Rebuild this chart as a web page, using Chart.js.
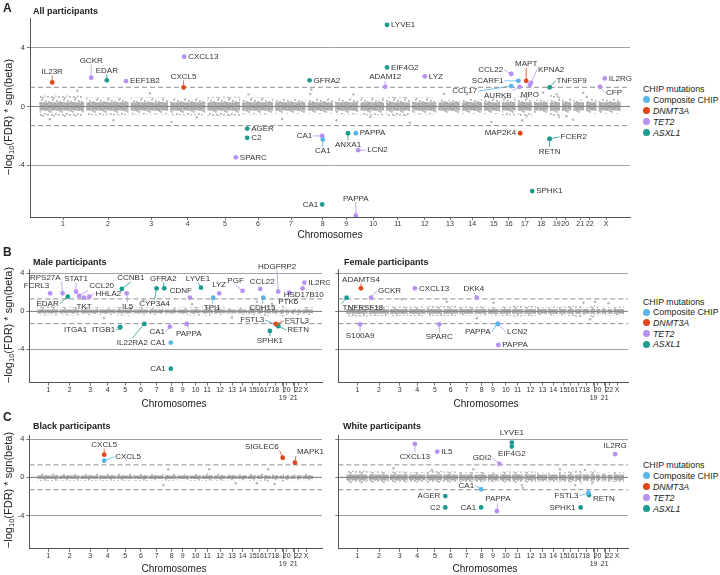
<!DOCTYPE html>
<html>
<head>
<meta charset="utf-8">
<style>
  body { margin: 0; background: #fff; font-family: 'Liberation Sans', Arial, Helvetica, sans-serif; color: #222; }
  #page { position: relative; width: 720px; height: 575px; overflow: hidden; }
  #page canvas { position: absolute; }
  .tag { position: absolute; font-weight: bold; font-size: 12px; line-height: 12px; }
  .ptitle { position: absolute; font-weight: bold; font-size: 9px; line-height: 10px; transform: translateY(-50%); }
  .ytitle { position: absolute; font-size: 11px; white-space: nowrap; transform: translate(-50%, -50%) rotate(-90deg); }
  .ytitle sub { font-size: 7.5px; vertical-align: -2px; }
  .xtitle { position: absolute; font-size: 10px; white-space: nowrap; transform: translate(-50%, -50%); }
  .legend { position: absolute; left: 643px; font-size: 8.8px; color: #222; }
  .legend div { white-space: nowrap; }
  .legend i { font-style: italic; }
  .legend .dot { display: inline-block; width: 7px; height: 7px; border-radius: 50%; margin-right: 3px; vertical-align: -0.5px; }
</style>
</head>
<body>
<div id="page">
  <canvas id="chartA" width="640" height="240" style="left:0;top:0"></canvas>
  <canvas id="chartBM" width="330" height="150" style="left:0;top:255px"></canvas>
  <canvas id="chartBF" width="310" height="150" style="left:330px;top:255px"></canvas>
  <canvas id="chartCB" width="330" height="150" style="left:0;top:420px"></canvas>
  <canvas id="chartCW" width="310" height="150" style="left:330px;top:420px"></canvas>

  <div class="tag" style="left:3px;top:2px">A</div>
  <div class="ptitle" style="left:33px;top:10.7px">All participants</div>
  <div class="tag" style="left:3px;top:246px">B</div>
  <div class="ptitle" style="left:33px;top:261.5px">Male participants</div>
  <div class="ptitle" style="left:344px;top:261.5px">Female participants</div>
  <div class="tag" style="left:3px;top:411px">C</div>
  <div class="ptitle" style="left:33px;top:426px">Black participants</div>
  <div class="ptitle" style="left:343px;top:426px">White participants</div>

  <div class="ytitle" style="left:9px;top:117px">−log<sub>10</sub>(FDR) * sgn(beta)</div>
  <div class="ytitle" style="left:9px;top:325px">−log<sub>10</sub>(FDR) * sgn(beta)</div>
  <div class="ytitle" style="left:9px;top:490px">−log<sub>10</sub>(FDR) * sgn(beta)</div>

  <div class="xtitle" style="left:330px;top:234px">Chromosomes</div>
  <div class="xtitle" style="left:174px;top:403px">Chromosomes</div>
  <div class="xtitle" style="left:486px;top:403px">Chromosomes</div>
  <div class="xtitle" style="left:174px;top:568px">Chromosomes</div>
  <div class="xtitle" style="left:485px;top:568px">Chromosomes</div>

  <div class="legend" id="legA" style="top:83.5px;line-height:11px"></div>
  <div class="legend" id="legB" style="top:296.5px;line-height:10.7px"></div>
  <div class="legend" id="legC" style="top:459.5px;line-height:11px"></div>
</div>

<script src="https://cdn.jsdelivr.net/npm/chart.js"></script>
<script>
// chromosome ticks (genome units along the x axis) and segment edges
const chrLabels = ['1','2','3','4','5','6','7','8','9','10','11','12','13','14','15','16','17','18','19','20','21','22','X'];
const chrPos = [55, 130, 202, 263, 325, 380, 435, 488, 527, 572, 613, 658, 700, 737, 773, 798, 825, 852, 878, 892, 917, 933, 960];
const chrEdges = [14, 92, 166, 232, 294, 352, 407, 461, 507, 549, 592, 635, 679, 718, 755, 785, 811, 838, 865, 885, 904, 925, 946, 986];
const fdrLine = 1.3;  // -log10(0.05)

const groupNames = ['Composite CHIP', 'DNMT3A', 'TET2', 'ASXL1'];
const groupCodes = ['C', 'D', 'T', 'A'];

// ---- A: all participants
const aGenes = ['IL23R','GCKR','EDAR','EEF1B2','CXCL13','CXCL5','GFRA2','AGER','C2','SPARC','CA1','CA1','CA1','ANXA1','PAPPA','LCN2','PAPPA','LYVE1','EIF4G2','ADAM12','LYZ','CCL22','SCARF1','MAPT','KPNA2','CCL17','AURKB','MPO','TNFSF9','IL2RG','CFP','MAP2K4','FCER2','RETN','SPHK1'];
const aPos = [37, 102, 128, 160, 257, 256, 466, 362, 362, 343, 487, 488, 487, 530, 543, 547, 543, 595, 595, 592, 658, 802, 814, 827, 835, 802, 816, 833, 866, 958, 950, 817, 866, 866, 837];
const aVal = [1.63, 1.95, 1.77, 1.72, 3.37, 1.29, 1.77, -1.5, -2.13, -3.45, -2.0, -2.25, -6.65, -1.82, -1.82, -2.97, -7.4, 5.53, 2.65, 1.33, 2.04, 2.2, 1.74, 1.74, 1.6, 1.38, 1.33, 1.45, 1.29, 1.9, 1.33, -1.82, -2.2, -2.2, -5.74];
const aMut = ['D','T','A','T','T','D','A','A','A','T','T','C','A','A','C','T','T','A','A','T','T','T','C','D','T','C','T','T','A','T','T','D','A','A','A'];
const aHi = [0.75, 0.6, 0.6, 0.55, 0.65, 0.6, 0.5, 0.55, 0.55, 0.6, 0.65, 0.6, 0.45, 0.5, 0.55, 0.6, 0.75, 0.45, 0.8, 0.55, 0.45, 0.5, 0.5];
const aLo = [-0.7, -0.6, -0.55, -0.6, -0.65, -0.55, -0.5, -0.5, -0.55, -0.6, -0.65, -0.55, -0.45, -0.5, -0.5, -0.6, -0.75, -0.45, -0.8, -0.5, -0.45, -0.5, -0.5];
const aCore = 0.28;
const aOutPos = [79, 33, 139, 200, 236, 278, 364, 420, 467, 469, 511, 539, 567, 633, 690, 728, 769, 820, 855, 878, 894, 905, 922, 928];
const aOutVal = [1.06, -0.87, -0.93, 0.9, -1.05, -0.75, 0.82, -0.85, 0.84, 1.15, -0.93, 0.82, -0.7, -1.1, 0.85, 0.82, -1.05, -0.95, 0.95, 0.82, -0.66, -0.9, 0.93, 0.66];

// ---- B: male participants
const bmGenes = ['RPS27A','FCRL3','EDAR','STAT1','CCL20','TKT','HHLA2','CCNB1','IL5','CYP3A4','GFRA2','LYVE1','CDNF','LYZ','TPI1','PGF','CCL22','CDH15','HDGFRP2','PTK6','IL2RG','HSD17B10','ITGA1','ITGB1','IL22RA2','CA1','CA1','CA1','PAPPA','FSTL3','FSTL3','RETN','SPHK1'];
const bmPos = [105, 61, 123, 152, 163, 180, 199, 313, 330, 435, 462, 591, 552, 655, 634, 737, 799, 810, 862, 901, 954, 948, 307, 307, 392, 482, 485, 485, 541, 862, 854, 862, 833];
const bmVal = [1.89, 1.89, 1.54, 2.07, 1.61, 1.43, 1.54, 2.35, 1.89, 2.42, 2.42, 2.49, 1.43, 1.89, 1.43, 2.14, 2.35, 1.43, 2.07, 1.96, 3.01, 2.42, -1.68, -1.68, -1.33, -1.62, -3.3, -6.04, -1.33, -1.55, -1.34, -1.55, -2.07];
const bmMut = ['T','T','A','T','T','T','T','A','T','A','A','A','T','T','C','T','T','C','T','T','T','T','A','A','A','T','C','A','T','A','D','A','A'];
const bmHi = [0.5, 0.45, 0.45, 0.4, 0.45, 0.45, 0.4, 0.4, 0.4, 0.45, 0.5, 0.45, 0.35, 0.4, 0.4, 0.45, 0.55, 0.4, 0.6, 0.45, 0.35, 0.4, 0.45];
const bmLo = [-0.45, -0.45, -0.4, -0.4, -0.45, -0.4, -0.4, -0.35, -0.4, -0.45, -0.45, -0.4, -0.35, -0.4, -0.4, -0.45, -0.5, -0.35, -0.55, -0.4, -0.35, -0.4, -0.4];
const bmCore = 0.2;
const bmOutPos = [250, 389, 560, 700, 787, 840, 921];
const bmOutVal = [-0.7, 1.19, 0.75, -0.65, 1.0, 0.8, 1.26];

// ---- B: female participants
const bfGenes = ['ADAMTS4','TNFRSF18','GCKR','CXCL13','DKK4','S100A9','SPARC','LCN2','PAPPA','PAPPA'];
const bfPos = [67, 17, 102, 255, 471, 64, 340, 545, 543, 546];
const bfVal = [2.42, 1.43, 1.43, 2.42, 1.43, -1.37, -1.37, -1.33, -1.33, -3.55];
const bfMut = ['D','A','T','T','T','T','T','T','C','T'];
const bfHi = [0.6, 0.55, 0.5, 0.5, 0.55, 0.55, 0.5, 0.5, 0.45, 0.5, 0.55, 0.55, 0.45, 0.5, 0.5, 0.55, 0.65, 0.45, 0.7, 0.5, 0.4, 0.45, 0.5];
const bfLo = [-0.55, -0.5, -0.5, -0.5, -0.5, -0.5, -0.45, -0.45, -0.45, -0.5, -0.55, -0.5, -0.4, -0.45, -0.45, -0.5, -0.6, -0.4, -0.65, -0.45, -0.4, -0.45, -0.45];
const bfCore = 0.25;
const bfOutPos = [209, 366, 471, 529, 843, 866, 883, 930];
const bfOutVal = [1.26, 1.0, -0.74, 0.9, 0.9, -0.84, 1.0, 0.84];

// ---- C: black participants
const cbGenes = ['CXCL5','CXCL5','SIGLEC6','MAPK1'];
const cbPos = [251, 251, 878, 921];
const cbVal = [2.37, 1.74, 2.05, 1.53];
const cbMut = ['D','C','D','D'];
const cbHi = [0.4, 0.35, 0.35, 0.35, 0.4, 0.35, 0.35, 0.35, 0.3, 0.35, 0.4, 0.35, 0.3, 0.3, 0.35, 0.4, 0.45, 0.3, 0.45, 0.35, 0.3, 0.3, 0.35];
const cbLo = [-0.4, -0.35, -0.35, -0.35, -0.35, -0.35, -0.3, -0.35, -0.3, -0.35, -0.35, -0.35, -0.3, -0.3, -0.35, -0.35, -0.45, -0.3, -0.45, -0.3, -0.3, -0.3, -0.3];
const cbCore = 0.18;
const cbOutPos = [459, 476, 620, 713, 787, 827, 850];
const cbOutVal = [-0.81, 0.84, 0.84, -0.63, -0.63, 0.84, -0.7];

// ---- C: white participants
const cwGenes = ['LYVE1','EIF4G2','CXCL13','IL5','IL2RG','GDI2','CA1','AGER','C2','CA1','PAPPA','FSTL3','RETN','SPHK1'];
const cwPos = [593, 593, 255, 333, 953, 550, 486, 361, 361, 486, 541, 860, 862, 833];
const cwVal = [3.64, 3.22, 3.5, 2.69, 2.42, 1.4, -1.26, -1.97, -3.16, -3.16, -3.55, -1.62, -1.86, -3.16];
const cwMut = ['A','A','T','T','T','T','C','A','A','A','T','C','A','A'];
const cwHi = [0.7, 0.6, 0.6, 0.55, 0.65, 0.6, 0.55, 0.55, 0.5, 0.6, 0.6, 0.6, 0.5, 0.5, 0.55, 0.6, 0.75, 0.5, 0.8, 0.55, 0.45, 0.5, 0.55];
const cwLo = [-0.65, -0.6, -0.55, -0.55, -0.6, -0.55, -0.5, -0.5, -0.5, -0.55, -0.6, -0.55, -0.45, -0.5, -0.5, -0.55, -0.7, -0.45, -0.75, -0.5, -0.45, -0.5, -0.5];
const cwCore = 0.3;
const cwOutPos = [180, 314, 459, 628, 631, 761, 814, 848];
const cwOutVal = [0.95, 0.77, 0.84, -0.81, -1.09, 0.84, -0.81, 0.77];

// label placement: [dx, dy, side, leader]  (pixels from the dot)
const aLab = [[0,-7,'t',1],[0,-13,'t',1],[0,-6,'t',1],[3,0,'r',0],[3,0,'r',0],[0,-7,'t',1],[3,0,'r',0],[3,0,'r',0],[3,0,'r',0],[3,0,'r',0],
  [-9,0,'l',1],[0,7,'b',1],[-3,0,'l',0],[0,7,'b',1],[3,0,'r',0],[8,0,'r',1],[0,-13,'t',1],[3,0,'r',0],[3,0,'r',0],[0,-6,'t',1],
  [3,0,'r',0],[-7,-4,'l',1],[-14,0,'l',1],[0,-13,'t',1],[6,-13,'r',1],[-33,5,'l',1],[-7,4,'bl',1],[0,5,'b',0],[6,-7,'r',1],[3,0,'r',0],
  [5,6,'r',1],[-3,0,'l',0],[10,-2,'r',1],[0,8,'b',1],[3,0,'r',0]];
const bmLab = [[-1,-12,'tl',1],[0,-4,'tl',0],[-8,7,'l',1],[0,-9,'t',1],[9,-6,'tr',1],[0,5,'b',0],[5,-3,'r',1],[9,-7,'t',1],[1,9,'b',1],[-2,11,'b',1],
  [-1,-6,'t',1],[-3,-5,'t',1],[3,-3,'tl',0],[0,-5,'t',0],[-1,6,'b',1],[-7,-6,'t',1],[2,-3,'t',0],[-1,6,'b',1],[-1,-21,'t',1],[-1,5,'b',0],
  [3,0,'r',0],[1,2,'b',0],[-32,3,'l',0],[-4,3,'l',1],[-12,14,'b',1],[-4,5,'l',1],[-4,0,'l',0],[-4,0,'l',0],[2,5,'b',1],[-13,-6,'l',1],
  [8,-3,'r',1],[8,4,'r',1],[0,5,'b',1]];
const bfLab = [[0,-5,'t',1],[-5,6,'br',1],[6,-7,'r',1],[3,0,'r',0],[-3,-5,'t',1],[0,7,'b',1],[0,8,'b',1],[8,8,'r',1],[-6,8,'l',1],[3,0,'r',0]];
const cbLab = [[0,-6,'t',1],[10,-4,'r',1],[-3,-7,'tl',1],[1,-7,'tr',1]];
const cwLab = [[0,-6,'t',0],[0,3,'b',0],[0,8,'b',1],[3,0,'r',0],[0,-4,'t',0],[-7,-6,'l',1],[-6,-4,'l',1],[-4,0,'l',0],[-4,0,'l',0],[-4,0,'l',0],
  [1,-8,'t',1],[-9,3,'l',1],[3,4,'r',0],[-4,0,'l',0]];

const COLORS = { C: '#5ab4ea', D: '#e2461c', T: '#b792f2', A: '#1c9b90' };
const FONT = "'Liberation Sans', Arial, Helvetica, sans-serif";
Chart.defaults.font.family = FONT;
Chart.defaults.color = '#333';

// dotted textures for the grey cloud of non-significant proteins
function tilePattern(w, h, base, color, dots, size) {
  const c = document.createElement('canvas');
  c.width = w; c.height = h;
  const g = c.getContext('2d');
  if (base) { g.fillStyle = base; g.fillRect(0, 0, w, h); }
  g.fillStyle = color;
  dots.forEach(d => g.fillRect(d[0], d[1], size, size));
  return g.createPattern(c, 'repeat');
}
const outerFill = tilePattern(11, 9, null, '#b3b3b3', [[1,1],[6,3],[3,6],[9,7],[8,0],[4,2],[0,5],[7,6]], 1.8);
const coreFill = tilePattern(7, 5, 'rgba(178,178,178,0.8)', '#a4a4a4', [[0,0],[3,1],[5,0],[1,2],[4,3],[6,2],[2,4]], 1.8);

function band(vals) {
  const pts = [];
  vals.forEach((v, i) => {
    pts.push({ x: chrEdges[i] + 1.5, y: v }, { x: chrEdges[i + 1] - 1.5, y: v }, { x: chrEdges[i + 1], y: null });
  });
  return pts;
}

const SIDE = { t: ['center','bottom'], b: ['center','top'], l: ['right','middle'], r: ['left','middle'],
  tl: ['right','bottom'], tr: ['left','bottom'], bl: ['right','top'], br: ['left','top'] };

function labelPlugin(d) {
  const at = (chart, i) => [chart.scales.x.getPixelForValue(d.pos[i]), chart.scales.y.getPixelForValue(d.val[i])];
  return {
    id: 'geneLabels',
    beforeDatasetsDraw(chart) {
      const ctx = chart.ctx;
      ctx.save();
      ctx.lineWidth = 0.8;
      d.lab.forEach((s, i) => {
        if (!s[3]) return;
        const [px, py] = at(chart, i);
        ctx.strokeStyle = COLORS[d.mut[i]];
        ctx.beginPath(); ctx.moveTo(px, py); ctx.lineTo(px + s[0], py + s[1]); ctx.stroke();
      });
      ctx.restore();
    },
    afterDatasetsDraw(chart) {
      const ctx = chart.ctx;
      ctx.save();
      ctx.font = '8px ' + FONT;
      ctx.fillStyle = '#333';
      d.lab.forEach((s, i) => {
        const [px, py] = at(chart, i);
        const [al, bl] = SIDE[s[2]];
        let tx = px + s[0], ty = py + s[1];
        if (al === 'left') tx += 1;
        if (al === 'right') tx -= 1;
        if (bl === 'top') ty += 0.5;
        ctx.textAlign = al; ctx.textBaseline = bl;
        ctx.fillText(d.genes[i], tx, ty);
      });
      ctx.restore();
    }
  };
}

// long ticks under the labels that sit on the second row (19 and 21)
const lowRow = [18, 20];
function longTicks(on) {
  return {
    id: 'longTicks',
    afterDraw(chart) {
      if (!on) return;
      const ctx = chart.ctx, x = chart.scales.x, b = chart.chartArea.bottom;
      ctx.save();
      ctx.strokeStyle = '#555'; ctx.lineWidth = 0.8;
      lowRow.forEach(i => {
        const px = Math.round(x.getPixelForValue(chrPos[i])) + 0.5;
        ctx.beginPath(); ctx.moveTo(px, b); ctx.lineTo(px, b + 10); ctx.stroke();
      });
      ctx.restore();
    }
  };
}

function makeChart(id, d, L) {
  const datasets = [];
  groupCodes.forEach(g => {
    const pts = [];
    d.mut.forEach((m, i) => { if (m === g) pts.push({ x: d.pos[i], y: d.val[i] }); });
    datasets.push({ type: 'scatter', data: pts, backgroundColor: COLORS[g], borderWidth: 0, pointRadius: 2.4, showLine: false, order: 0 });
  });
  datasets.push({ type: 'scatter', data: d.outPos.map((x, i) => ({ x: x, y: d.outVal[i] })),
    backgroundColor: '#b3b3b3', borderWidth: 0, pointRadius: 1.2, showLine: false, order: 1 });
  [fdrLine, -fdrLine].forEach(y => datasets.push({ type: 'line', data: [{ x: L.xMin, y: y }, { x: L.xMax, y: y }],
    borderColor: '#8e8e8e', borderWidth: 1, borderDash: [5, 3], pointRadius: 0, fill: false, order: 2 }));
  // zero line kept visible above the cloud
  datasets.push({ type: 'line', data: [{ x: L.xMin, y: 0 }, { x: L.xMax, y: 0 }],
    borderColor: 'rgba(110,110,110,0.7)', borderWidth: 0.9, pointRadius: 0, fill: false, order: 2 });
  const core = chrLabels.map(() => d.core);
  [core, core.map(v => -v)].forEach(v => datasets.push({ type: 'line', data: band(v), fill: 'origin', spanGaps: false,
    backgroundColor: coreFill, borderWidth: 0, pointRadius: 0, order: 3 }));
  [d.hi, d.lo].forEach(v => datasets.push({ type: 'line', data: band(v), fill: 'origin', spanGaps: false,
    backgroundColor: outerFill, borderWidth: 0, pointRadius: 0, order: 4 }));

  return new Chart(document.getElementById(id), {
    type: 'scatter',
    data: { datasets: datasets },
    options: {
      responsive: false,
      animation: false,
      events: [],
      layout: { padding: L.pad },
      plugins: { legend: { display: false }, tooltip: { enabled: false } },
      scales: {
        x: {
          type: 'linear', min: L.xMin, max: L.xMax,
          afterBuildTicks: s => { s.ticks = chrPos.map(v => ({ value: v })); },
          afterFit: s => { s.height = 20; },
          grid: { drawOnChartArea: false, tickLength: 3, tickColor: '#555', tickWidth: 0.8 },
          border: { color: '#555', width: 1 },
          ticks: { autoSkip: false, maxRotation: 0, minRotation: 0, padding: 0, font: { size: 7 }, color: '#333',
            callback: (v, i) => (L.stagger && lowRow.includes(i)) ? ['', chrLabels[i]] : chrLabels[i] }
        },
        y: {
          type: 'linear', min: L.yMin, max: L.yMax,
          afterBuildTicks: s => { s.ticks = [-4, 0, 4].map(v => ({ value: v })); },
          afterFit: s => { s.width = L.yW; },
          grid: { color: '#999', lineWidth: 0.9, tickLength: 3, tickColor: '#555', tickWidth: 0.8 },
          border: { color: '#555', width: 1 },
          ticks: { display: L.yLabels, padding: 2, font: { size: 7.5 }, color: '#333' }
        }
      }
    },
    plugins: [labelPlugin(d), longTicks(L.stagger)]
  });
}

makeChart('chartA',
  { genes: aGenes, pos: aPos, val: aVal, mut: aMut, lab: aLab, hi: aHi, lo: aLo, core: aCore, outPos: aOutPos, outVal: aOutVal },
  { xMin: 0, xMax: 1000, yMin: -7.5, yMax: 6, yW: 20, yLabels: true, stagger: false, pad: { left: 10, right: 10, top: 18, bottom: 3 } });
makeChart('chartBM',
  { genes: bmGenes, pos: bmPos, val: bmVal, mut: bmMut, lab: bmLab, hi: bmHi, lo: bmLo, core: bmCore, outPos: bmOutPos, outVal: bmOutVal },
  { xMin: -12, xMax: 1016, yMin: -7.5, yMax: 4.4, yW: 20, yLabels: true, stagger: true, pad: { left: 9.3, right: 8, top: 14.5, bottom: 2.5 } });
makeChart('chartBF',
  { genes: bfGenes, pos: bfPos, val: bfVal, mut: bfMut, lab: bfLab, hi: bfHi, lo: bfLo, core: bfCore, outPos: bfOutPos, outVal: bfOutVal },
  { xMin: -12, xMax: 998, yMin: -7.5, yMax: 4.4, yW: 6, yLabels: false, stagger: true, pad: { left: 2.3, right: 12, top: 14.5, bottom: 2.5 } });
makeChart('chartCB',
  { genes: cbGenes, pos: cbPos, val: cbVal, mut: cbMut, lab: cbLab, hi: cbHi, lo: cbLo, core: cbCore, outPos: cbOutPos, outVal: cbOutVal },
  { xMin: -12, xMax: 1016, yMin: -7.5, yMax: 4.4, yW: 20, yLabels: true, stagger: true, pad: { left: 9.3, right: 8, top: 15.3, bottom: 1.1 } });
makeChart('chartCW',
  { genes: cwGenes, pos: cwPos, val: cwVal, mut: cwMut, lab: cwLab, hi: cwHi, lo: cwLo, core: cwCore, outPos: cwOutPos, outVal: cwOutVal },
  { xMin: -12, xMax: 998, yMin: -7.5, yMax: 4.4, yW: 6, yLabels: false, stagger: true, pad: { left: 2.3, right: 12, top: 15.3, bottom: 1.1 } });

// legends
['legA', 'legB', 'legC'].forEach(id => {
  const el = document.getElementById(id);
  let html = '<div>CHIP mutations</div>';
  groupCodes.forEach((g, i) => {
    const name = i === 0 ? groupNames[i] : '<i>' + groupNames[i] + '</i>';
    html += '<div><span class="dot" style="background:' + COLORS[g] + '"></span>' + name + '</div>';
  });
  el.innerHTML = html;
});
</script>
</body>
</html>
